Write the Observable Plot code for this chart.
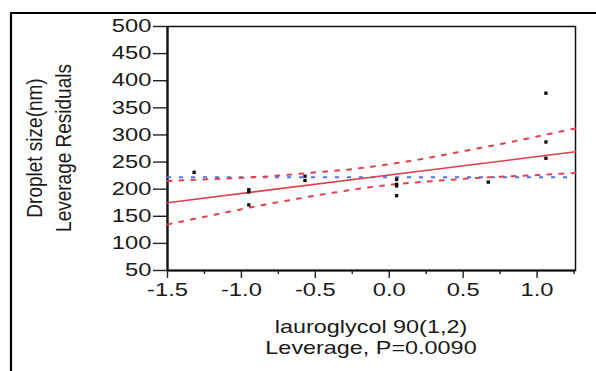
<!DOCTYPE html>
<html><head><meta charset="utf-8">
<script src="https://cdn.jsdelivr.net/npm/d3@7"></script>
<script src="https://cdn.jsdelivr.net/npm/@observablehq/plot@0.6"></script>
<style>
body{margin:0;background:#fff;}
svg{display:block;font-family:"Liberation Sans",Arial,sans-serif;}
</style>
</head><body><div id="chart"></div>
<script>
// Data
const pointX = [-1.32, -0.95, -0.95, -0.95, -0.57, -0.57, 0.05, 0.05, 0.05, 0.05, 0.67, 1.06, 1.06, 1.06];
const pointY = [231, 199, 195, 171, 224, 216, 218, 209, 206, 188, 213, 377, 287, 257];
const bandX = [-1.5, -1.25, -1.0, -0.75, -0.5, -0.25, 0.0, 0.25, 0.5, 0.75, 1.0, 1.26];
const bandUpper = [215, 218, 221, 225, 231, 237, 246, 257, 270, 283, 297, 312];
const bandLower = [135, 149, 163, 176, 188, 199, 208, 214, 219, 223, 226, 230];
const fitX = [-1.5, 1.26];
const fitY = [175, 269];
const meanY = 222;
const xDomain = [-1.5, 1.26];
const yDomain = [50, 500];
const xTicks = [-1.5, -1.0, -0.5, 0.0, 0.5, 1.0];
const xMinorTicks = [-1.25, -0.75, -0.25, 0.25, 0.75, 1.25];
const yTicks = [50, 100, 150, 200, 250, 300, 350, 400, 450, 500];
const yTitle = ["Droplet size(nm)", "Leverage Residuals"];
const xTitle = ["lauroglycol 90(1,2)", "Leverage, P=0.0090"];

const points = pointX.map((x, i) => ({x, y: pointY[i]}));
const upper = bandX.map((x, i) => ({x, y: bandUpper[i]}));
const lower = bandX.map((x, i) => ({x, y: bandLower[i]}));
const fit = fitX.map((x, i) => ({x, y: fitY[i]}));

const red = "#e2404e";
const blue = "#4a78e0";

const plot = Plot.plot({
  width: 596, height: 371,
  marginLeft: 167, marginRight: 21, marginTop: 26, marginBottom: 101,
  style: {fontFamily: '"Liberation Sans", Arial, sans-serif', fontSize: "18px", color: "#1a1a1a", background: "white"},
  x: {domain: xDomain},
  y: {domain: yDomain},
  marks: [
    Plot.frame({stroke: "#111", strokeWidth: 1.5}),
    Plot.axisY({ticks: yTicks, tickSize: 14, tickPadding: 2, tickFormat: d => String(d), label: null, stroke: "#222", strokeWidth: 1.4, fontSize: 18, fill: "#1a1a1a"}),
    Plot.axisX({ticks: xTicks, tickSize: 8, tickPadding: 5, tickFormat: d => d.toFixed(1), label: null, stroke: "#222", strokeWidth: 1.4, fontSize: 18, fill: "#1a1a1a"}),
    Plot.axisX({ticks: xMinorTicks, tickSize: 4, tickFormat: () => "", label: null, stroke: "#222", strokeWidth: 1.4}),
    Plot.ruleX([xDomain[0]], {stroke: "#111", strokeWidth: 2.2}),
    Plot.ruleY([yDomain[0]], {stroke: "#111", strokeWidth: 2.2}),
    Plot.ruleY([meanY], {stroke: blue, strokeWidth: 2, strokeDasharray: "4,8"}),
    Plot.line(upper, {x: "x", y: "y", stroke: red, strokeWidth: 2, strokeDasharray: "4,8", curve: "natural"}),
    Plot.line(lower, {x: "x", y: "y", stroke: red, strokeWidth: 2, strokeDasharray: "4,8", curve: "natural"}),
    Plot.line(fit, {x: "x", y: "y", stroke: red, strokeWidth: 1.6}),
    Plot.dot(points, {x: "x", y: "y", symbol: "square", r: 1.9, fill: "#111", stroke: "none"})
  ]
});

// widen horizontal tick labels to match the reference's wide lettering
plot.querySelectorAll('g[aria-label$="tick label"] text').forEach(t => {
  const tr = t.getAttribute("transform") || "";
  t.setAttribute("transform", `${tr} scale(1.32,1)`);
});

const svg = d3.select(plot);
// outer box (left and top border)
svg.append("path").attr("d", "M11,371V13H596").attr("fill", "none").attr("stroke", "#000").attr("stroke-width", 2.2);

const fam = '"Liberation Sans", Arial, sans-serif';
const cx = (167 + 575) / 2;
[333, 354].forEach((yy, i) => {
  svg.append("text").attr("transform", `translate(${cx},${yy}) scale(1.3,1)`)
    .attr("text-anchor", "middle").attr("font-family", fam).attr("font-size", 18).attr("fill", "#1a1a1a").text(xTitle[i]);
});
[42, 71].forEach((xx, i) => {
  svg.append("text").attr("transform", `translate(${xx},148) rotate(-90) scale(1,1.15)`)
    .attr("text-anchor", "middle").attr("font-family", fam).attr("font-size", 19).attr("fill", "#1a1a1a").text(yTitle[i]);
});

document.getElementById("chart").appendChild(plot);
</script>
</body></html>
